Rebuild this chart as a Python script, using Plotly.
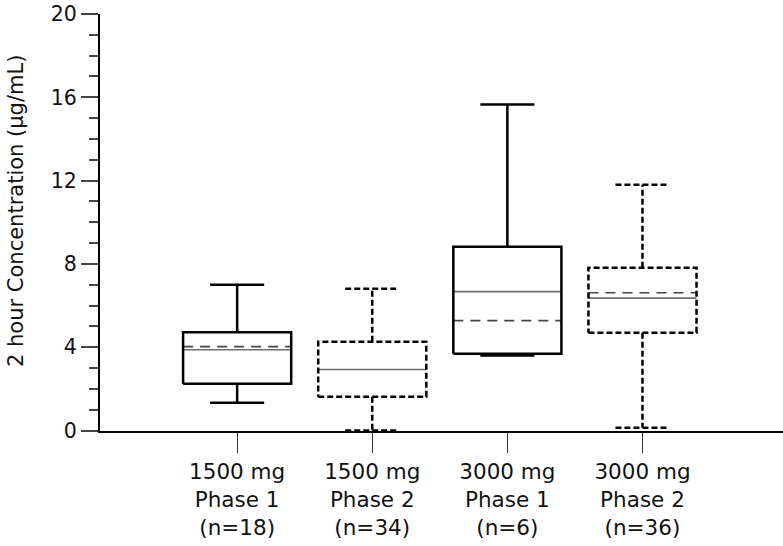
import plotly.graph_objects as go

# ---- data ----
groups = ["1500 mg<br>Phase 1<br>(n=18)", "1500 mg<br>Phase 2<br>(n=34)",
          "3000 mg<br>Phase 1<br>(n=6)", "3000 mg<br>Phase 2<br>(n=36)"]
q1 = [2.25, 1.63, 3.69, 4.70]
median = [3.88, 2.93, 6.67, 6.36]
q3 = [4.72, 4.27, 8.83, 7.82]
mean = [4.03, 2.93, 5.28, 6.62]
lower = [1.34, 0.0, 3.60, 0.14]
upper = [7.0, 6.81, 15.65, 11.8]
dashed_group = [False, True, False, True]
y_ticks = [0, 4, 8, 12, 16, 20]
y_title = "2 hour Concentration (µg/mL)"

# ---- styling ----
half_box = 0.4
half_cap = 0.2
edge = "black"
edge_w = 2.5
mid_color = "#6e6e6e"

fig = go.Figure()


def add_line(xs, ys, color, width, dash="solid"):
    fig.add_trace(go.Scatter(x=xs, y=ys, mode="lines",
                             line=dict(color=color, width=width, dash=dash),
                             hoverinfo="skip", showlegend=False,
                             cliponaxis=False))


for i in range(len(groups)):
    d = "6px,3px" if dashed_group[i] else "solid"
    # whiskers
    add_line([i, i], [q3[i], upper[i]], edge, edge_w, d)
    add_line([i, i], [q1[i], lower[i]], edge, edge_w, d)
    # caps
    add_line([i - half_cap, i + half_cap], [upper[i], upper[i]], edge, edge_w, d)
    add_line([i - half_cap, i + half_cap], [lower[i], lower[i]], edge, edge_w, d)
    # median
    add_line([i - half_box, i + half_box], [median[i], median[i]], mid_color, 1.6)
    # mean (dashed) when distinct
    if abs(mean[i] - median[i]) > 1e-9:
        add_line([i - half_box, i + half_box], [mean[i], mean[i]], "#444444", 1.6, "10px,7px")
    # box
    add_line([i - half_box, i + half_box, i + half_box, i - half_box, i - half_box],
             [q1[i], q1[i], q3[i], q3[i], q1[i]], edge, edge_w, d)

font = "DejaVu Sans"
fig.update_layout(
    width=783, height=546,
    margin=dict(l=100, r=0, t=14, b=115),
    paper_bgcolor="white", plot_bgcolor="white",
    font=dict(family=font, size=20, color="#111111"),
    showlegend=False,
    xaxis=dict(range=[-1.015, 4.04], tickvals=list(range(len(groups))), ticktext=groups,
               showline=True, linecolor="black", linewidth=2,
               ticks="outside", ticklen=20, tickwidth=1.2, tickcolor="#333333",
               showgrid=False, zeroline=False, tickfont=dict(size=21.5)),
    yaxis=dict(range=[-0.02, 20], tickvals=y_ticks,
               showline=True, linecolor="black", linewidth=2,
               ticks="outside", ticklen=17, tickwidth=1.5, tickcolor="#444444",
               minor=dict(dtick=1, ticks="outside", ticklen=9, tickwidth=1.5, tickcolor="#444444"),
               showgrid=False, zeroline=False, tickfont=dict(size=20.5),
               ticklabeloverflow="allow"),
    annotations=[dict(text=y_title, textangle=-90, xref="paper", yref="paper",
                      x=0, y=0.5276, xanchor="center", yanchor="middle",
                      xshift=-84, showarrow=False, font=dict(size=21))],
)

fig.write_html("out.html", config={"displayModeBar": False},
               post_script="document.body.style.margin='0';")
